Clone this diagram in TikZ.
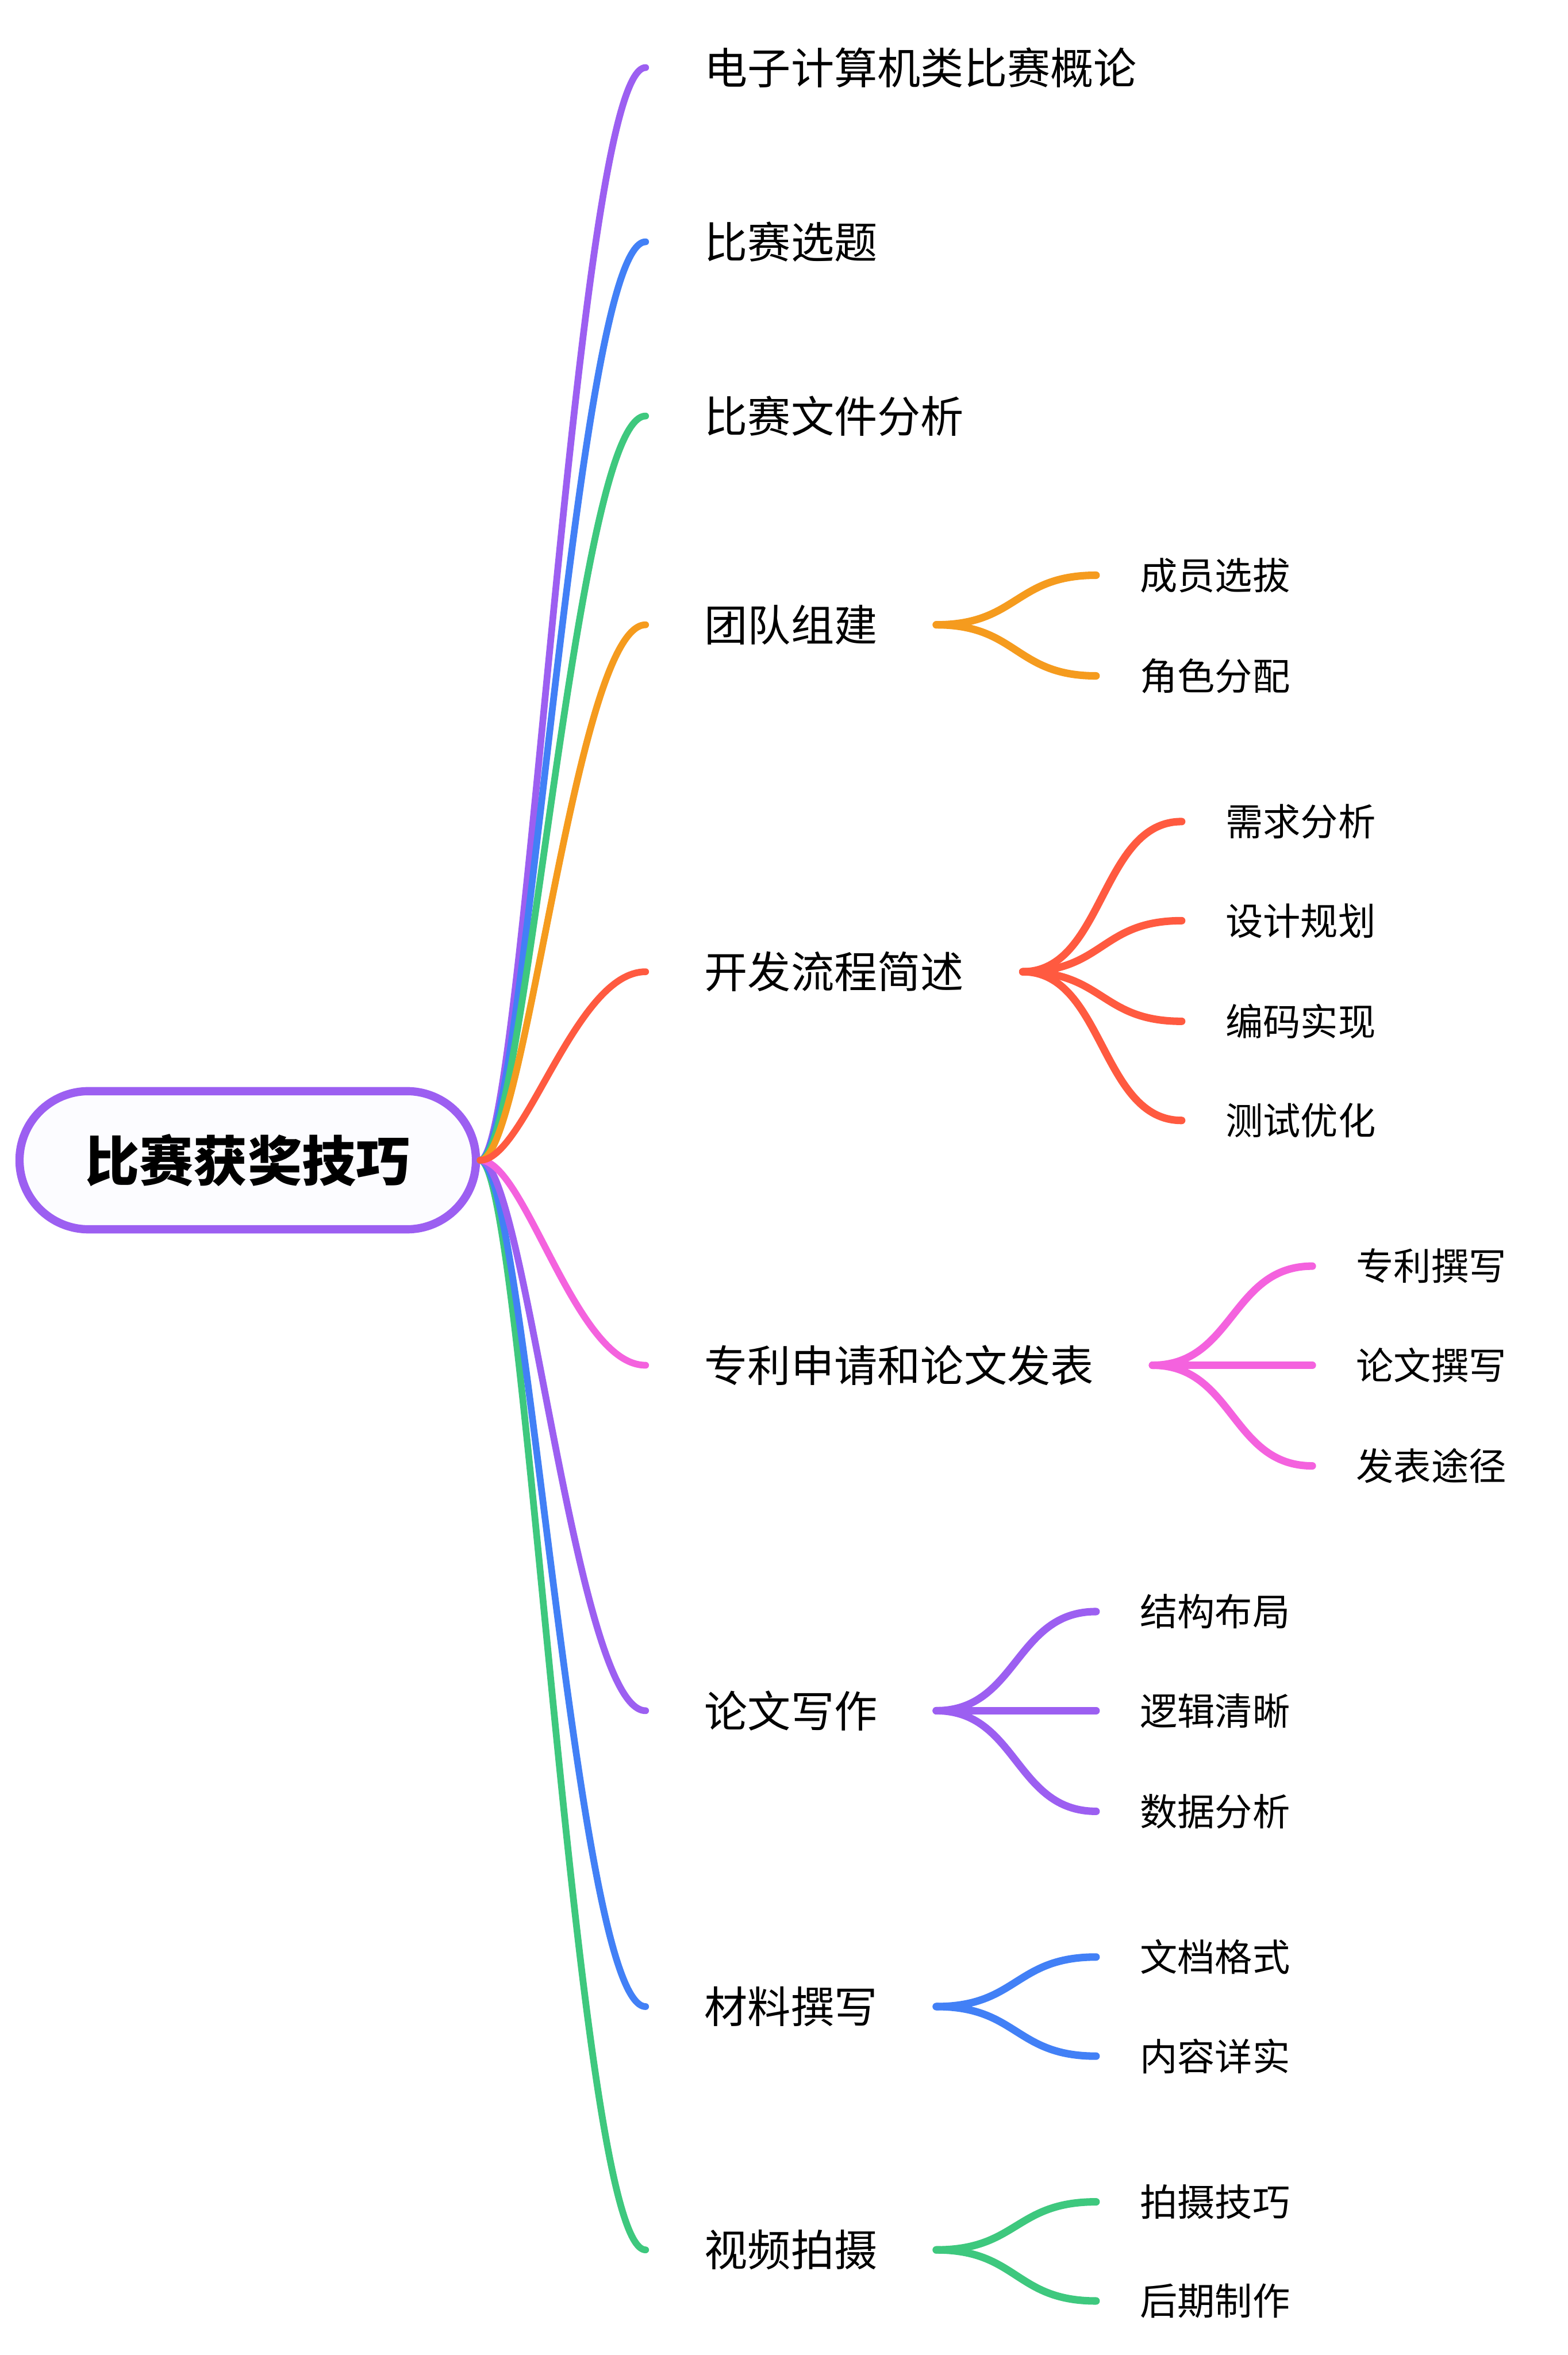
\documentclass[tikz,border=0pt]{standalone}
\usepackage{fontspec}
\usepackage{tikz}
\newfontfamily\cjk{Noto Sans CJK SC}
\definecolor{mmpurple}{RGB}{156,95,241}
\definecolor{mmblue}{RGB}{66,128,246}
\definecolor{mmgreen}{RGB}{62,200,126}
\definecolor{mmorange}{RGB}{245,155,30}
\definecolor{mmred}{RGB}{255,90,64}
\definecolor{mmpink}{RGB}{244,98,222}
\definecolor{rootfill}{RGB}{252,252,255}

\begin{document}
\begin{tikzpicture}[
    x=1pt, y=-1pt,
    rootbox/.style={draw=mmpurple, line width=5.5pt, fill=rootfill, rounded corners=46pt, minimum width=304pt, minimum height=92pt, font=\cjk\bfseries\fontsize{36}{40}\selectfont},
    topic/.style={anchor=west, inner xsep=39pt, inner ysep=0pt, font=\cjk\fontsize{28.8}{32}\selectfont},
    subtopic/.style={anchor=west, inner xsep=29pt, inner ysep=0pt, font=\cjk\fontsize{25}{28}\selectfont},
    branch/.style={line width=4.5pt, line cap=round},
    twig/.style={line width=5pt, line cap=round}
]
\useasboundingbox (0,0) rectangle (1044,1568);

% Root
\node[rootbox] (root) at (165,772.5) {比赛获奖技巧};

% Level-1 topics
\node[topic] (intro) at (430,45) {电子计算机类比赛概论};
\node[topic] (select) at (430,161) {比赛选题};
\node[topic] (docs) at (430,277) {比赛文件分析};
\node[topic] (team) at (430,416) {团队组建};
\node[topic] (dev) at (430,647) {开发流程简述};
\node[topic] (patent) at (430,909) {专利申请和论文发表};
\node[topic] (paper) at (430,1139) {论文写作};
\node[topic] (material) at (430,1336) {材料撰写};
\node[topic] (video) at (430,1498) {视频拍摄};

% Level-2 topics
\node[subtopic] (team1) at (730,383) {成员选拔};
\node[subtopic] (team2) at (730,450) {角色分配};
\node[subtopic] (dev1) at (787,547) {需求分析};
\node[subtopic] (dev2) at (787,613) {设计规划};
\node[subtopic] (dev3) at (787,680) {编码实现};
\node[subtopic] (dev4) at (787,746) {测试优化};
\node[subtopic] (patent1) at (874,843) {专利撰写};
\node[subtopic] (patent2) at (874,909) {论文撰写};
\node[subtopic] (patent3) at (874,976) {发表途径};
\node[subtopic] (paper1) at (730,1073) {结构布局};
\node[subtopic] (paper2) at (730,1139) {逻辑清晰};
\node[subtopic] (paper3) at (730,1206) {数据分析};
\node[subtopic] (material1) at (730,1303) {文档格式};
\node[subtopic] (material2) at (730,1369) {内容详实};
\node[subtopic] (video1) at (730,1466) {拍摄技巧};
\node[subtopic] (video2) at (730,1532) {后期制作};

% Root to level-1
\draw[branch, mmgreen] (root.east) .. controls +(30,0) and +(-47,0) .. (video.west);
\draw[branch, mmblue] (root.east) .. controls +(30,0) and +(-47,0) .. (material.west);
\draw[branch, mmpurple] (root.east) .. controls +(30,0) and +(-47,0) .. (paper.west);
\draw[branch, mmpink] (root.east) .. controls +(30,0) and +(-47,0) .. (patent.west);
\draw[branch, mmpurple] (root.east) .. controls +(30,0) and +(-47,0) .. (intro.west);
\draw[branch, mmblue] (root.east) .. controls +(30,0) and +(-47,0) .. (select.west);
\draw[branch, mmgreen] (root.east) .. controls +(30,0) and +(-47,0) .. (docs.west);
\draw[branch, mmorange] (root.east) .. controls +(30,0) and +(-47,0) .. (team.west);
\draw[branch, mmred] (root.east) .. controls +(30,0) and +(-47,0) .. (dev.west);

% Level-1 to level-2
\foreach \sub in {team1,team2}
  \draw[twig, mmorange] (team.east) .. controls +(54,0) and +(-54,0) .. (\sub.west);
\foreach \sub in {dev1,dev2,dev3,dev4}
  \draw[twig, mmred] (dev.east) .. controls +(54,0) and +(-54,0) .. (\sub.west);
\foreach \sub in {patent1,patent2,patent3}
  \draw[twig, mmpink] (patent.east) .. controls +(54,0) and +(-54,0) .. (\sub.west);
\foreach \sub in {paper1,paper2,paper3}
  \draw[twig, mmpurple] (paper.east) .. controls +(54,0) and +(-54,0) .. (\sub.west);
\foreach \sub in {material1,material2}
  \draw[twig, mmblue] (material.east) .. controls +(54,0) and +(-54,0) .. (\sub.west);
\foreach \sub in {video1,video2}
  \draw[twig, mmgreen] (video.east) .. controls +(54,0) and +(-54,0) .. (\sub.west);

\end{tikzpicture}
\end{document}
